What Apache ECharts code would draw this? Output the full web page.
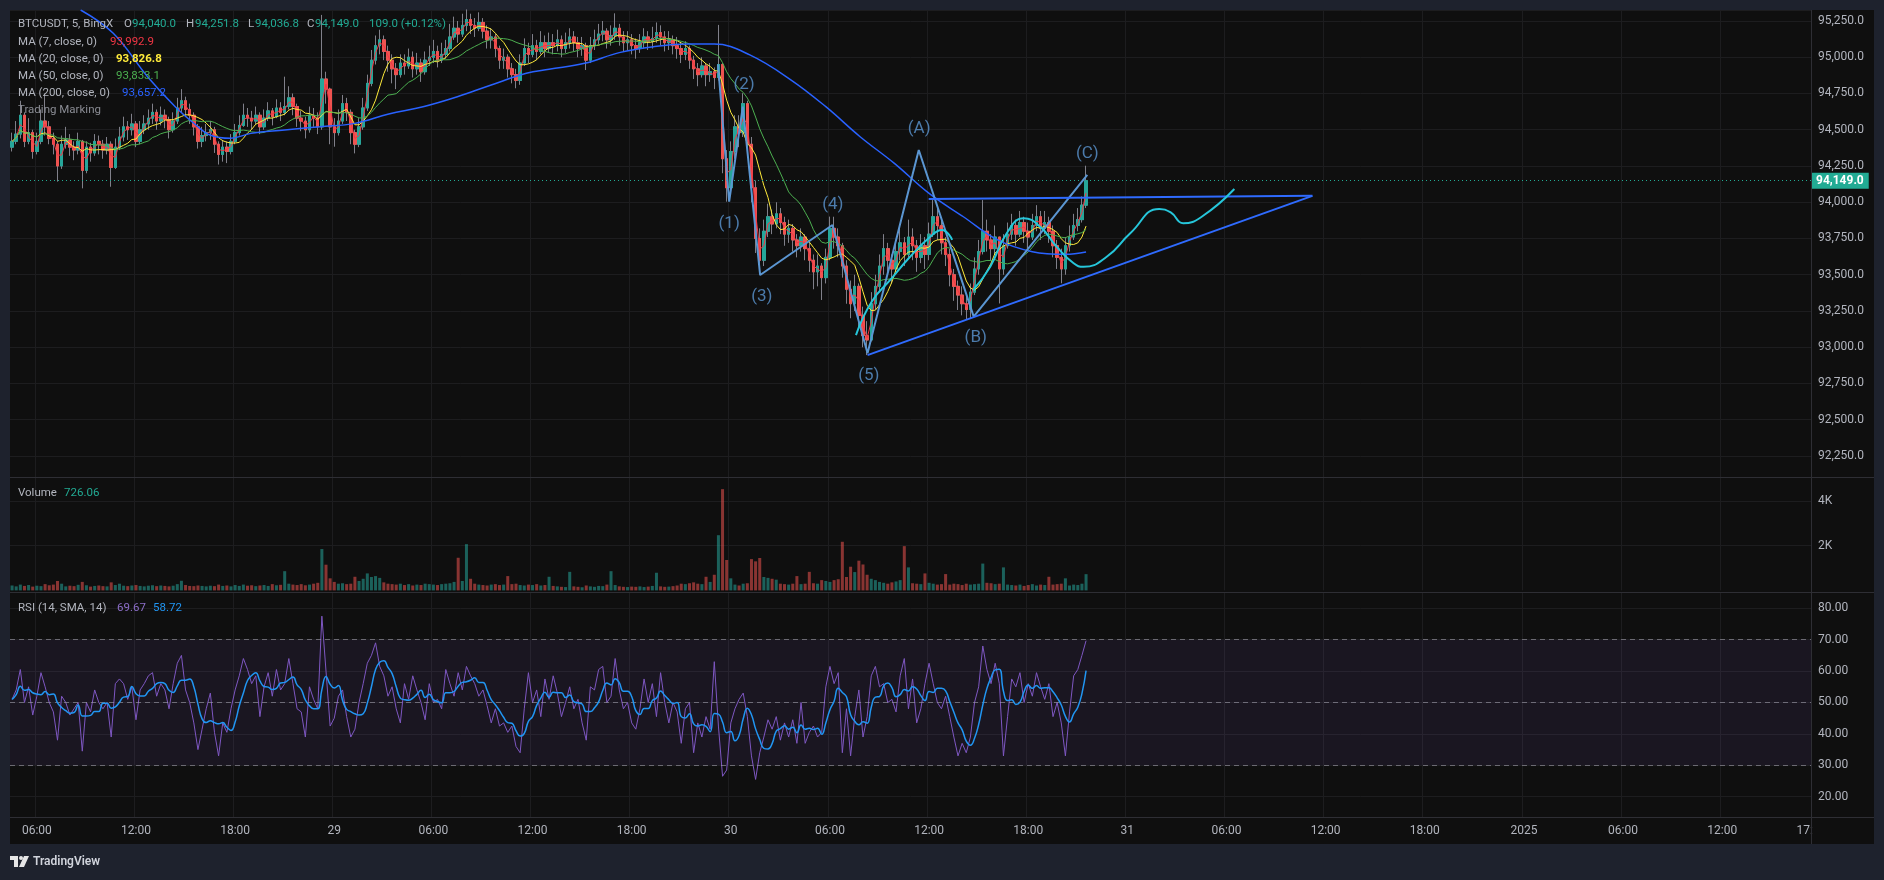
<!DOCTYPE html>
<html><head><meta charset="utf-8">
<script src="https://cdn.jsdelivr.net/npm/echarts@6/dist/echarts.min.js"></script>
<style>html,body{margin:0;padding:0;background:#1e222d;}#c{width:1884px;height:880px;}</style>
</head><body><div id="c"></div>
<script>
// ---------- DATA (15-minute slots starting 28 Dec 04:30) ----------
const SLOT_COUNT = 436;
const firstOpen = 94380;
const closes = [
94420,94470,94600,94420,94480,94350,94420,94560,94520,94440,
94400,94250,94400,94430,94380,94360,94420,94220,94380,94340,
94420,94400,94360,94400,94240,94380,94450,94520,94500,94540,
94420,94500,94540,94580,94620,94560,94600,94570,94500,94560,
94650,94700,94640,94600,94520,94420,94460,94480,94500,94400,
94330,94380,94350,94420,94480,94530,94600,94580,94560,94600,
94520,94580,94630,94590,94650,94620,94660,94720,94660,94580,
94560,94500,94600,94580,94520,94850,94780,94520,94480,94560,
94680,94620,94480,94400,94520,94650,94820,94980,95080,95120,
95040,94980,94920,94880,94960,94940,95000,94920,94960,94900,
94980,95000,95040,94980,95020,95060,95140,95200,95160,95220,
95260,95220,95200,95240,95180,95120,95140,95060,94980,95000,
94920,94880,94840,94960,95060,95020,95080,95040,95100,95060,
95100,95080,95120,95060,95100,95140,95100,95060,95080,94980,
95080,95120,95160,95180,95120,95150,95200,95140,95100,95120,
95080,95060,95100,95140,95110,95130,95170,95140,95100,95120,
95080,95060,95020,95060,94980,94920,94880,94940,94880,94900,
94860,94950,94300,94100,94350,94520,94480,94680,94400,94100,
93750,93600,93800,93900,93850,93920,93860,93780,93820,93740,
93700,93760,93680,93600,93520,93560,93480,93620,93820,93760,
93700,93560,93400,93300,93420,93220,93080,93050,93300,93420,
93560,93680,93600,93540,93660,93720,93640,93760,93700,93620,
93700,93640,93780,93900,93840,93720,93640,93500,93420,93360,
93300,93260,93380,93540,93660,93800,93740,93680,93760,93540,
93700,93780,93840,93780,93860,93800,93760,93840,93900,93820,
93860,93800,93700,93620,93540,93700,93760,93840,93880,93980,
94149];
const highs = [
94480,94560,94700,94620,94580,94500,94480,94640,94751,94560,
94480,94420,94460,94520,94470,94420,94480,94430,94420,94410,
94470,94460,94430,94450,94420,94440,94520,94590,94560,94610,
94560,94560,94600,94640,94680,94640,94660,94640,94590,94620,
94720,94780,94728,94680,94620,94540,94520,94540,94560,94520,
94420,94430,94420,94470,94540,94600,94680,94650,94630,94660,
94620,94640,94690,94650,94710,94690,94866,94800,94750,94680,
94630,94590,94660,94650,94620,95292,94900,94790,94580,94640,
94740,94720,94640,94500,94580,94720,94880,95050,95150,95190,
95150,95080,95020,94960,95020,95020,95060,95040,95030,94990,
95040,95080,95120,95080,95100,95120,95230,95280,95250,95300,
95330,95300,95270,95310,95270,95220,95200,95160,95080,95060,
95020,94960,94920,95020,95130,95100,95160,95120,95180,95150,
95170,95160,95190,95150,95170,95200,95180,95140,95140,95100,
95140,95190,95230,95250,95200,95220,95303,95230,95180,95180,
95160,95130,95160,95200,95180,95210,95240,95220,95180,95180,
95150,95140,95100,95110,95080,95010,94960,95000,94960,94960,
94930,95223,94960,94360,94420,94600,94600,94752,94700,94450,
94150,93820,93880,93990,93950,94000,93960,93900,93880,93850,
93780,93820,93780,93720,93640,93640,93580,93680,93901,93900,
93820,93720,93600,93460,93500,93440,93280,93180,93380,93500,
93640,93780,93720,93640,93740,93820,93760,93880,93820,93740,
93780,93760,93860,94015,93960,93880,93760,93680,93540,93460,
93420,93360,93440,93620,93740,94015,93880,93780,93840,93760,
93780,93860,93920,93880,93940,93900,93860,93920,93980,93940,
93940,93900,93840,93740,93680,93760,93840,93920,93960,94040,
94252];
const lows = [
94350,94400,94440,94380,94400,94300,94330,94400,94460,94400,
94330,94142,94230,94370,94320,94290,94330,94096,94200,94280,
94320,94330,94300,94330,94107,94230,94360,94420,94430,94460,
94380,94400,94470,94500,94540,94500,94530,94510,94440,94480,
94540,94620,94590,94540,94460,94370,94380,94420,94430,94340,
94260,94280,94270,94330,94400,94460,94520,94520,94500,94540,
94470,94500,94560,94530,94580,94560,94600,94640,94600,94520,
94490,94440,94480,94520,94470,94500,94680,94400,94383,94460,
94540,94560,94400,94337,94380,94500,94630,94800,94950,95020,
94980,94900,94820,94780,94860,94880,94920,94860,94880,94830,
94880,94940,94960,94930,94960,94990,95040,95120,95100,95140,
95180,95160,95140,95180,95130,95060,95060,95000,94920,94920,
94860,94820,94786,94810,94940,94960,95000,94980,95020,95000,
95030,95020,95040,95000,95030,95060,95040,95000,95010,94912,
94960,95050,95090,95110,95060,95080,95120,95080,95040,95050,
95020,94990,95030,95060,95050,95060,95100,95080,95040,95050,
95020,94990,94960,94980,94920,94850,94800,94860,94800,94830,
94780,94840,94200,94004,94060,94300,94380,94450,94320,94000,
93650,93510,93560,93760,93780,93820,93780,93700,93720,93660,
93620,93660,93600,93520,93400,93420,93326,93440,93600,93680,
93620,93480,93300,93200,93250,93120,93000,92946,93040,93260,
93380,93500,93520,93440,93520,93600,93560,93620,93600,93520,
93580,93540,93600,93760,93740,93640,93560,93420,93320,93257,
93220,93188,93200,93360,93500,93640,93660,93600,93640,93302,
93500,93680,93740,93700,93760,93720,93680,93740,93800,93740,
93780,93720,93620,93540,93441,93500,93660,93740,93800,93860,
93960];
const volumes = [
220,180,260,200,240,170,210,190,280,230,
260,420,300,180,210,190,250,380,230,170,
200,220,190,180,360,240,300,210,190,220,
240,200,180,210,230,190,220,200,180,210,
280,430,240,200,190,220,200,180,210,190,
260,200,220,180,240,200,260,210,230,190,
220,240,200,280,230,250,860,300,260,240,
280,230,260,300,340,1850,1150,540,380,300,
320,280,300,610,420,520,760,600,640,560,
360,300,280,260,300,240,280,220,260,240,
300,280,260,240,280,300,320,380,1460,420,
2070,520,300,260,240,220,260,280,240,260,
640,280,300,240,220,260,240,280,220,240,
610,200,180,160,150,830,180,160,140,220,
180,160,200,190,260,860,240,180,160,150,
170,160,180,150,170,200,790,180,160,170,
190,220,300,280,320,360,300,280,610,380,
700,2470,4530,1360,540,260,220,300,320,1400,
1300,1450,600,560,520,480,300,280,260,300,
640,280,300,830,320,300,460,420,380,460,
500,2175,600,1060,820,1330,1160,700,520,460,
380,340,300,360,400,460,1980,1030,320,300,
280,760,340,300,260,280,730,260,300,280,
240,300,260,280,300,1200,340,320,280,300,
1030,260,240,220,260,200,240,280,220,260,
240,610,260,280,300,540,220,260,240,300,
726.06];
const rsiValues = [
51,54,60.5,50,55,46,52,59.5,55,50,
47,38,52,50,46,48,50,34.5,50,47,
54,50,48,50,39,56,57.5,56,51,55,
44.5,54,56,58.5,59.5,52,56,54,48,56,
62.5,65,54,50,43.5,35,41.5,48,53,40.5,
33,43.5,40.5,48,54,58.5,64,60.5,56,58.5,
45.5,55,59.5,52,60.5,54,56,64,56,48,
47,39,55,51,48,77.5,60,42.5,45,52,
54,45.5,39,41.5,50,56,62.5,65,69,61.5,
58.5,52,55,48,43.5,56,51,58.5,54,50,
44.5,56,50,51,48,60.5,56,52,59.5,54,
61.5,58.5,56,52,54,49,43.5,48,42.5,43.5,
40.5,42.5,36,34,48,59.5,50,54,45.5,57.5,
51,58.5,53,45.5,50,55,48,51,43.5,38,
55,54,60.5,61.5,50,52,64,54,48,50,
43.5,41.5,48,57.5,50,56,45.5,59.5,50,43.5,
50,47,37,48,50,34,43.5,39,45.5,41.5,
63,42.5,26.5,28.5,43.5,48,51,53,45.5,33,
25.5,34,39,44.5,41.5,45.5,38,43.5,39,44.5,
37,50,37,40.5,42.5,39,40.5,55,61.5,56,
59.5,34,48,33,45.5,54,39,45.5,58.5,61.5,
55,56,50,51,47,58.5,64,48,57.5,43.5,
48,56,62.5,56,50,48,52,45.5,39,33,
37,34,39,50,55,68,60.5,56,62.5,56,
33,45.5,57.5,55,59.5,50,56,52,59.5,55,
51,56,45.5,50,43.5,33,47,58.5,60.5,65,
69.67];
const ma200Slots = [16.6,24.5,32.8,39.5,44.5,47.9,52.9,57.8,66,74.5,83,91.2,99.5,107.8,116,124.5,130,138.6,147,155.3,163.6,170,178.6,188.6,197,205.3,213.6,222,230.3,238.6,247,255,260];
const ma200Values = [95326,95165,94866,94659,94533,94464,94441,94475,94498,94521,94544,94609,94659,94728,94809,94889,94917,94958,95032,95073,95091,95091,95016,94843,94659,94452,94268,94061,93900,93740,93659,93641,93657];
const waveSlots = [170.9,173.6,176.9,181.1,198.6,207.1,219.5,232.8,260.3];
const wavePrices = [94950,94004,94659,93498,93843,92958,94360,93211,94188];
const waveLabelNames = ['(1)','(2)','(3)','(4)','(5)','(A)','(B)','(C)'];
const waveLabelSlots = [173.6,177.2,181.5,198.7,207.4,219.6,233.3,260.3];
const waveLabelPrices = [93853,94807,93348,93986,92802,94508,93066,94334];
const supportSlots = [207.1,314.8];
const supportPrices = [92946,94044];
const resistSlots = [221.9,314.8];
const resistPrices = [94022,94044];
const pathASlots = [204.3,208.1,212.6,217.4,222.3,225.1,227.6];
const pathAPrices = [93084,93314,93464,93624,93762,93809,93740];
const pathBSlots = [232.7,236.8,240.8,244.9,248.9,252.9,257.0,259.4,265.0,270.7,277.7,280.5,283.5,288.0,295.9];
const pathBPrices = [93395,93555,93786,93889,93831,93693,93579,93555,93624,93786,93953,93930,93855,93900,94091];
const lastPrice = 94149;
const timeTickSlots = [6,30,54,78,102,126,150,174,198,222,246,270,294,318,342,366,390,414,434];
const timeTickLabels = ['06:00','12:00','18:00','29','06:00','12:00','18:00','30','06:00','12:00','18:00','31','06:00','12:00','18:00','2025','06:00','12:00','17:'];

// ---------- derived ----------
const opens = closes.map((c, i) => i === 0 ? firstOpen : closes[i - 1]);
const ohlcFull = closes.map((c, i) => [opens[i], c, lows[i], highs[i]]);
const ohlcBody = closes.map((c, i) => [opens[i], c, Math.min(opens[i], c), Math.max(opens[i], c)]);
function sma(arr, n) {
  return arr.map((_, i) => {
    const s = Math.max(0, i - n + 1); let sum = 0;
    for (let k = s; k <= i; k++) sum += arr[k];
    return +(sum / (i - s + 1)).toFixed(2);
  });
}
const pairs = (xs, ys) => xs.map((x, i) => [x, ys[i]]);
const cats = Array.from({length: SLOT_COUNT}, (_, i) => String(i));
const labelMap = {}; timeTickSlots.forEach((s, i) => labelMap[s] = timeTickLabels[i]);
const gridLineSet = new Set(timeTickSlots.slice(0, -1));
const fmtPrice = v => v.toLocaleString('en-US', {minimumFractionDigits: 1, maximumFractionDigits: 1});

const UP = '#26a69a', DN = '#ef5350', WICK = '#80808a';
const GRIDC = '#1d1d1f', TXT = '#b2b5be', SEP = '#2e2e34', BG = '#0f0f0f', TEAL = '#22ab94';
const FONT = 'Roboto, "Noto Sans", sans-serif';
const LF = '11.5px ' + FONT;

const catSplit = {show: true, interval: (i) => gridLineSet.has(i), lineStyle: {color: GRIDC}};
function catAxis(gi) {
  return {type: 'category', gridIndex: gi, data: cats, boundaryGap: true,
    axisLine: {show: false}, axisTick: {show: false, alignWithLabel: true}, axisLabel: {show: false}, splitLine: catSplit};
}

const chart = echarts.init(document.getElementById('c'), null, {renderer: 'canvas'});

function t(x, y, text, fill, font) {
  return {type: 'text', x: x, y: y, z: 110, silent: true,
    style: {text: text, fill: fill, font: font || LF, verticalAlign: 'middle'}};
}
function hline(y, x1, x2) { return {type: 'line', z: 100, silent: true, shape: {x1: x1, y1: y, x2: x2, y2: y}, style: {stroke: SEP, lineWidth: 1}}; }
function vline(x, y1, y2) { return {type: 'line', z: 100, silent: true, shape: {x1: x, y1: y1, x2: x, y2: y2}, style: {stroke: SEP, lineWidth: 1}}; }

const option = {
  backgroundColor: '#1e222d',
  animation: false,
  textStyle: {fontFamily: FONT},
  grid: [
    {left: 10, width: 1801, top: 10, height: 482.25},
    {left: 10, width: 1801, top: 477, height: 113.4},
    {left: 10, width: 1801, top: 592, height: 236.1},
    {left: 10, width: 1801, top: 817, height: 1}
  ],
  xAxis: [
    catAxis(0),
    {type: 'value', gridIndex: 0, min: -0.5, max: SLOT_COUNT - 0.5, show: false},
    catAxis(1),
    catAxis(2),
    {type: 'category', gridIndex: 3, data: cats, boundaryGap: true, z: 60,
      axisLine: {show: false}, axisTick: {show: false}, splitLine: {show: false},
      axisLabel: {show: true, interval: (i) => labelMap[i] !== undefined, formatter: (v, i) => labelMap[i] || '',
        color: TXT, fontSize: 12, margin: 7, fontFamily: FONT}}
  ],
  yAxis: [
    {type: 'value', gridIndex: 0, position: 'right', min: 92000, max: 95325.86, interval: 250,
      axisLine: {show: false}, axisTick: {show: false},
      axisLabel: {color: TXT, fontSize: 12, margin: 7, fontFamily: FONT,
        formatter: v => (v >= 92100 && v <= 95300) ? fmtPrice(v) : ''},
      splitLine: {show: true, showMinLine: false, lineStyle: {color: GRIDC}}},
    {type: 'value', gridIndex: 1, position: 'right', min: 0, max: 5074, interval: 2000,
      axisLine: {show: false}, axisTick: {show: false},
      axisLabel: {color: TXT, fontSize: 12, margin: 7, fontFamily: FONT,
        formatter: v => (v === 2000 || v === 4000) ? (v / 1000) + 'K' : ''},
      splitLine: {show: true, showMinLine: false, lineStyle: {color: GRIDC}}},
    {type: 'value', gridIndex: 2, position: 'right', min: 10, max: 85.19, interval: 10,
      axisLine: {show: false}, axisTick: {show: false},
      axisLabel: {color: TXT, fontSize: 12, margin: 7, fontFamily: FONT,
        formatter: v => (v >= 15 && v <= 82) ? v.toFixed(2) : ''},
      splitLine: {show: true, showMinLine: false, lineStyle: {color: GRIDC}}},
    {type: 'value', gridIndex: 3, show: false}
  ],
  series: [
    {type: 'candlestick', name: 'wick', xAxisIndex: 0, yAxisIndex: 0, data: ohlcFull, barWidth: 3, z: 2, silent: true,
      itemStyle: {color: WICK, color0: WICK, borderColor: WICK, borderColor0: WICK, borderColorDoji: WICK, borderWidth: 1}},
    {type: 'candlestick', name: 'body', xAxisIndex: 0, yAxisIndex: 0, data: ohlcBody, barWidth: 3, z: 3, silent: true,
      itemStyle: {color: UP, color0: DN, borderColor: UP, borderColor0: DN, borderColorDoji: UP, borderWidth: 1},
      markLine: {silent: true, symbol: ['none', 'none'], animation: false,
        lineStyle: {type: [1, 3], color: TEAL, width: 1},
        label: {show: true, position: 'end', distance: 0, formatter: () => fmtPrice(lastPrice),
          backgroundColor: TEAL, color: '#ffffff', fontWeight: 'bold', fontSize: 12, padding: [2, 5], fontFamily: FONT},
        data: [{yAxis: lastPrice}]}},
    {type: 'line', name: 'MA7', xAxisIndex: 0, yAxisIndex: 0, data: sma(closes, 2), symbol: 'none', z: 4, silent: true,
      lineStyle: {color: '#f23645', width: 1}},
    {type: 'line', name: 'MA20', xAxisIndex: 0, yAxisIndex: 0, data: sma(closes, 7), symbol: 'none', z: 4, silent: true,
      lineStyle: {color: '#ffeb3b', width: 1}},
    {type: 'line', name: 'MA50', xAxisIndex: 0, yAxisIndex: 0, data: sma(closes, 17), symbol: 'none', z: 4, silent: true,
      lineStyle: {color: '#4caf50', width: 1}},
    {type: 'line', name: 'MA200', xAxisIndex: 1, yAxisIndex: 0, data: pairs(ma200Slots, ma200Values), symbol: 'none', smooth: 0.4, z: 4, silent: true,
      lineStyle: {color: '#2962ff', width: 1.5}},
    {type: 'line', name: 'wave', xAxisIndex: 1, yAxisIndex: 0, data: pairs(waveSlots, wavePrices), symbol: 'none', z: 5, silent: true,
      lineStyle: {color: '#5b96d2', width: 2}},
    {type: 'line', name: 'support', xAxisIndex: 1, yAxisIndex: 0, data: pairs(supportSlots, supportPrices), symbol: 'none', z: 5, silent: true,
      lineStyle: {color: '#2f6bff', width: 2}},
    {type: 'line', name: 'resist', xAxisIndex: 1, yAxisIndex: 0, data: pairs(resistSlots, resistPrices), symbol: 'none', z: 5, silent: true,
      lineStyle: {color: '#2f6bff', width: 2}},
    {type: 'line', name: 'pathA', xAxisIndex: 1, yAxisIndex: 0, data: pairs(pathASlots, pathAPrices), symbol: 'none', smooth: true, z: 5, silent: true,
      lineStyle: {color: '#26c6da', width: 2}},
    {type: 'line', name: 'pathB', xAxisIndex: 1, yAxisIndex: 0, data: pairs(pathBSlots, pathBPrices), symbol: 'none', smooth: true, z: 5, silent: true,
      lineStyle: {color: '#26c6da', width: 2}},
    {type: 'scatter', name: 'labels', xAxisIndex: 1, yAxisIndex: 0, z: 6, silent: true, symbolSize: 1,
      itemStyle: {color: 'rgba(0,0,0,0)'},
      data: waveLabelSlots.map((s, i) => ({name: waveLabelNames[i], value: [s, waveLabelPrices[i]]})),
      label: {show: true, position: 'inside', formatter: '{b}', color: '#5b96d2', fontSize: 17, fontFamily: FONT}},
    {type: 'bar', name: 'Volume', xAxisIndex: 2, yAxisIndex: 1, barWidth: 3, z: 2, silent: true,
      data: volumes.map((v, i) => ({value: v, itemStyle: {color: closes[i] >= opens[i] ? 'rgba(38,166,154,0.55)' : 'rgba(239,83,80,0.55)'}}))},
    {type: 'line', name: 'RSI', xAxisIndex: 3, yAxisIndex: 2, data: rsiValues, symbol: 'none', z: 4, silent: true,
      lineStyle: {color: '#7e57c2', width: 1},
      markArea: {silent: true, itemStyle: {color: 'rgba(126,87,194,0.1)'}, data: [[{yAxis: 30}, {yAxis: 70}]]},
      markLine: {silent: true, symbol: ['none', 'none'], label: {show: false},
        lineStyle: {type: [5, 4], color: 'rgba(170,170,180,0.55)', width: 1},
        data: [{yAxis: 70}, {yAxis: 50}, {yAxis: 30}]}},
    {type: 'line', name: 'RSI SMA', xAxisIndex: 3, yAxisIndex: 2, data: sma(rsiValues, 5), symbol: 'none', smooth: true, z: 5, silent: true,
      lineStyle: {color: '#2196f3', width: 1.5}}
  ],
  graphic: {elements: [
    {type: 'rect', z: -100, silent: true, shape: {x: 10, y: 10, width: 1864, height: 834}, style: {fill: BG}},
    {type: 'rect', z: 50, silent: true, shape: {x: 10, y: 818, width: 1864, height: 26}, style: {fill: BG}},
    hline(477.5, 10, 1874), hline(592.5, 10, 1874), hline(817.5, 10, 1874),
    vline(1811.5, 10, 844),
    t(18, 24, 'BTCUSDT, 5, BingX', TXT),
    t(124, 24, 'O', TXT), t(132, 24, '94,040.0', TEAL),
    t(186, 24, 'H', TXT), t(195, 24, '94,251.8', TEAL),
    t(248, 24, 'L', TXT), t(255, 24, '94,036.8', TEAL),
    t(307, 24, 'C', TXT), t(315, 24, '94,149.0', TEAL),
    t(369, 24, '109.0 (+0.12%)', TEAL),
    t(18, 42, 'MA (7, close, 0)', TXT), t(110, 42, '93,992.9', '#f23645'),
    t(18, 59, 'MA (20, close, 0)', TXT), t(116, 59, '93,826.8', '#ffeb3b', 'bold ' + LF),
    t(18, 76, 'MA (50, close, 0)', TXT), t(116, 76, '93,833.1', '#4caf50'),
    t(18, 93, 'MA (200, close, 0)', TXT), t(122, 93, '93,657.2', '#2962ff'),
    t(18, 110, 'Trading Marking', '#8a8c94'),
    t(18, 493, 'Volume', TXT), t(64, 493, '726.06', TEAL),
    t(18, 608, 'RSI (14, SMA, 14)', TXT), t(117, 608, '69.67', '#8c6ec8'), t(153, 608, '58.72', '#2196f3'),
    {type: 'rect', z: 110, silent: true, shape: {x: 10, y: 856, width: 8, height: 4}, style: {fill: '#e6e6e6'}},
    {type: 'rect', z: 110, silent: true, shape: {x: 14, y: 856, width: 4, height: 11}, style: {fill: '#e6e6e6'}},
    {type: 'circle', z: 110, silent: true, shape: {cx: 21, cy: 858, r: 2}, style: {fill: '#e6e6e6'}},
    {type: 'polygon', z: 110, silent: true, shape: {points: [[24, 856], [29, 856], [24, 867], [19, 867]]}, style: {fill: '#e6e6e6'}},
    t(33, 862, 'TradingView', '#d1d4dc', '600 12px ' + FONT)
  ]}
};
chart.setOption(option);
</script>
</body></html>
